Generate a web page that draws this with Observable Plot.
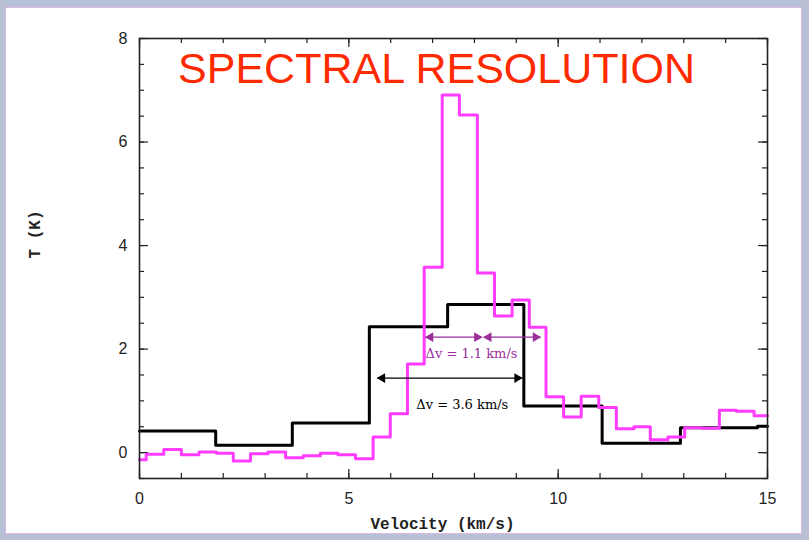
<!DOCTYPE html>
<html><head><meta charset="utf-8">
<script src="https://cdn.jsdelivr.net/npm/d3@7"></script>
<script src="https://cdn.jsdelivr.net/npm/@observablehq/plot@0.6"></script>
<style>
html,body{margin:0;padding:0;}
body{width:809px;height:540px;background:#b7c0d5;position:relative;overflow:hidden;}
#card{position:absolute;left:5px;top:7px;width:797px;height:527px;background:#fff;border:1px solid #dcb6e4;box-sizing:border-box;}
#chart{position:absolute;left:0;top:0;}
</style></head><body><div id="card"></div><div id="chart"></div>
<script>
// ---- text ----
const title = "SPECTRAL RESOLUTION";
const xLabel = "Velocity (km/s)";
const yLabel = "T (K)";
// ---- ticks ----
const xTicks = [0, 5, 10, 15];
const xMinor = [0,1,2,3,4,5,6,7,8,9,10,11,12,13,14,15];
const yTicks = [0, 2, 4, 6, 8];
const yMinor = [-0.5,0,0.5,1,1.5,2,2.5,3,3.5,4,4.5,5,5.5,6,6.5,7,7.5,8];
// ---- coarse spectrum (black): channel left edges (km/s) and T (K) ----
const coarseV = [0, 1.82, 3.65, 5.49, 7.36, 9.18, 11.05, 12.92, 14.76];
const coarseT = [0.42, 0.14, 0.57, 2.43, 2.86, 0.90, 0.18, 0.48, 0.51];
// ---- fine spectrum (magenta): channel left edges (km/s) and T (K) ----
const fineV = [0, 0.16, 0.58, 1.00, 1.42, 1.84, 2.24, 2.65, 3.07, 3.49, 3.91, 4.32, 4.74, 5.16,
  5.58, 5.99, 6.40, 6.80, 7.23, 7.64, 8.07, 8.48, 8.90, 9.31, 9.71, 10.13, 10.55, 10.97,
  11.39, 11.81, 12.20, 12.62, 13.02, 13.43, 13.85, 14.26, 14.68];
const fineT = [-0.14, -0.03, 0.06, -0.04, 0.01, -0.01, -0.16, -0.02, 0.01, -0.10, -0.06, -0.01, -0.04, -0.12,
  0.30, 0.75, 1.71, 3.58, 6.91, 6.52, 3.47, 2.64, 2.95, 2.42, 1.08, 0.69, 1.09, 0.87,
  0.46, 0.50, 0.25, 0.30, 0.48, 0.47, 0.82, 0.80, 0.71];
const vMax = 15;
// ---- annotations ----
const arrowX1 = [6.83, 8.22, 5.68];
const arrowX2 = [8.18, 9.58, 9.14];
const arrowY = [2.23, 2.23, 1.44];
const arrowColor = ["#9b2f9b", "#9b2f9b", "#000000"];
const noteText = ["\u0394v = 1.1 km/s", "\u0394v = 3.6 km/s"];
const noteX = [7.93, 7.71];
const noteY = [1.915, 0.93];
const noteColor = ["#9b2f9b", "#000000"];

const coarse = coarseV.map((v, i) => ({v, t: coarseT[i]})).concat([{v: vMax, t: coarseT[coarseT.length - 1]}]);
const fine = fineV.map((v, i) => ({v, t: fineT[i]})).concat([{v: vMax, t: fineT[fineT.length - 1]}]);
const arrows = arrowX1.map((x1, i) => ({x1, x2: arrowX2[i], y: arrowY[i], c: arrowColor[i]}));
const notes = noteText.map((text, i) => ({text, x: noteX[i], y: noteY[i], c: noteColor[i]}));

const W = 809, H = 540, mT = 38, mB = 62, mL = 139, mR = 42;
const FW = W - mL - mR, FH = H - mT - mB;
const minorLen = 5, majorLen = 9;
const tickStyle = {stroke: "#222", strokeWidth: 1.2};

const chart = Plot.plot({
  width: W, height: H,
  marginTop: mT, marginBottom: mB, marginLeft: mL, marginRight: mR,
  style: {background: "transparent", overflow: "visible"},
  x: {domain: [0, vMax]},
  y: {domain: [-0.5, 8]},
  color: {type: "identity"},
  marks: [
    // tick marks (inward, all four sides)
    Plot.ruleX(xMinor, {x: d => d, insetTop: FH - minorLen, ...tickStyle}),
    Plot.ruleX(xMinor, {x: d => d, insetBottom: FH - minorLen, ...tickStyle}),
    Plot.ruleX(xTicks, {x: d => d, insetTop: FH - majorLen, ...tickStyle}),
    Plot.ruleX(xTicks, {x: d => d, insetBottom: FH - majorLen, ...tickStyle}),
    Plot.ruleY(yMinor, {y: d => d, insetRight: FW - minorLen, ...tickStyle}),
    Plot.ruleY(yMinor, {y: d => d, insetLeft: FW - minorLen, ...tickStyle}),
    Plot.ruleY(yTicks, {y: d => d, insetRight: FW - majorLen, ...tickStyle}),
    Plot.ruleY(yTicks, {y: d => d, insetLeft: FW - majorLen, ...tickStyle}),
    Plot.axisX(xTicks, {anchor: "bottom", tickSize: 0, tickPadding: 14, tickFormat: d => String(d), fontSize: 16, fontFamily: "Liberation Sans, Arial, sans-serif", fill: "#222", label: null}),
    Plot.axisY(yTicks, {anchor: "left", tickSize: 0, tickPadding: 12, tickFormat: d => String(d), fontSize: 16, fontFamily: "Liberation Sans, Arial, sans-serif", fill: "#222", label: null}),
    // spectra
    Plot.line(coarse, {x: "v", y: "t", curve: "step-after", stroke: "#000", strokeWidth: 3}),
    Plot.line(fine, {x: "v", y: "t", curve: "step-after", stroke: "#ff3cff", strokeWidth: 3}),
    Plot.frame({stroke: "#222", strokeWidth: 1.6}),
    // annotations
    Plot.link(arrows, {x1: "x1", x2: "x2", y1: "y", y2: "y", stroke: "c", strokeWidth: 1.3}),
    Plot.dot(arrows, {x: "x2", y: "y", symbol: "triangle", rotate: 90, r: 3.6, fill: "c", stroke: null, dx: -5}),
    Plot.dot(arrows, {x: "x1", y: "y", symbol: "triangle", rotate: -90, r: 3.6, fill: "c", stroke: null, dx: 5}),
    Plot.text(notes, {x: "x", y: "y", text: "text", fill: "c", fontSize: 13, fontFamily: "DejaVu Serif, serif"}),
    // title and axis labels
    Plot.text([title], {text: d => d, frameAnchor: "top", lineAnchor: "top", dx: -17, dy: 14, fontSize: 43, fill: "#ff2a00", fontFamily: "Liberation Sans, Arial, sans-serif"}),
    Plot.text([xLabel], {text: d => d, frameAnchor: "bottom", lineAnchor: "bottom", dx: -11, dy: 50, fontSize: 16, fontWeight: "bold", fill: "#222", fontFamily: "Liberation Mono, monospace"}),
    Plot.text([yLabel], {text: d => d, frameAnchor: "left", rotate: -90, dx: -105, fontSize: 16, fontWeight: "bold", fill: "#222", fontFamily: "Liberation Mono, monospace"})
  ]
});
document.getElementById("chart").appendChild(chart);
</script>
</body></html>
